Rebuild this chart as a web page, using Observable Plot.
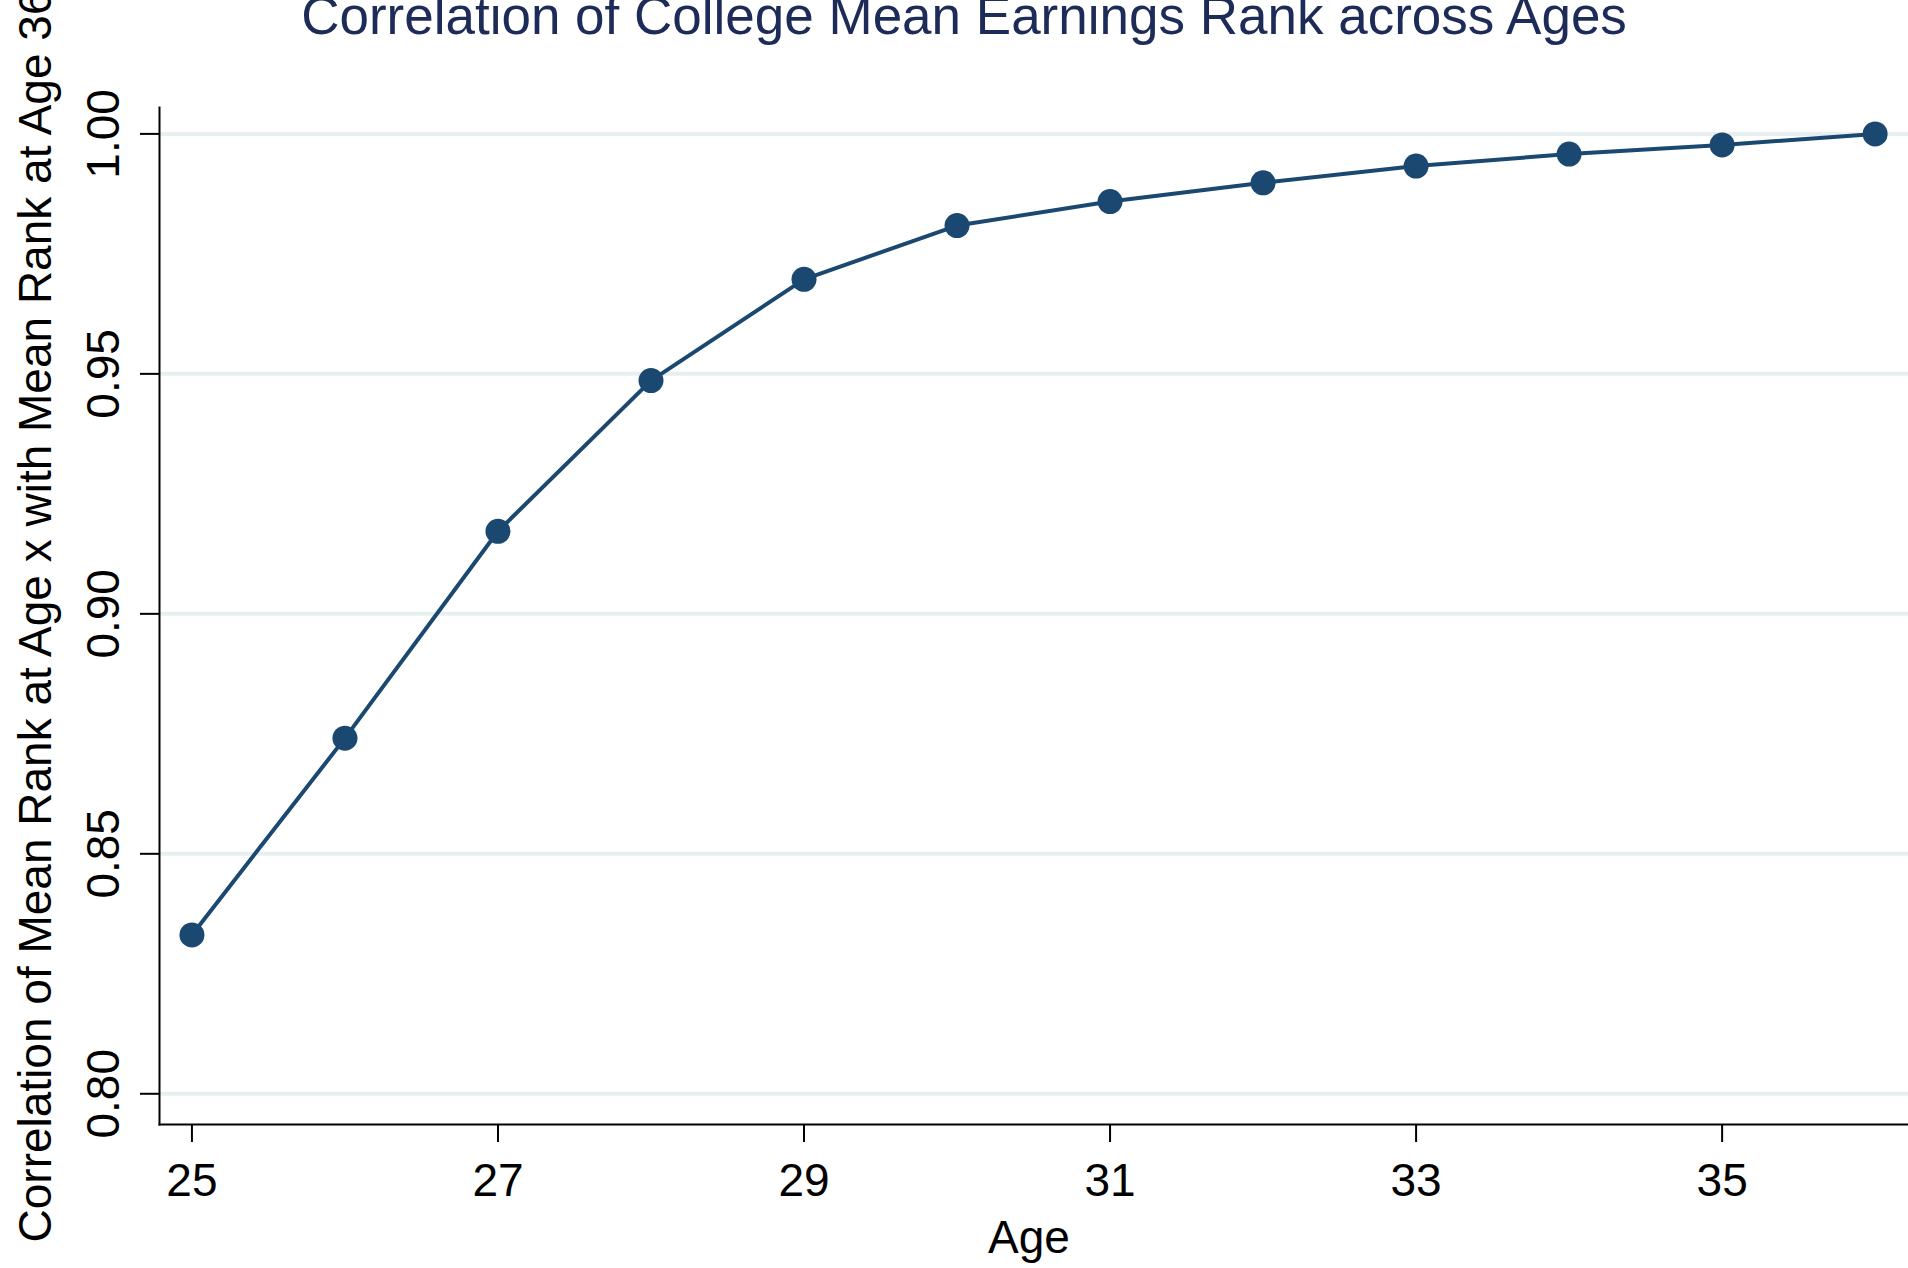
<!DOCTYPE html>
<html>
<head>
<meta charset="utf-8">
<script src="https://cdn.jsdelivr.net/npm/d3@7"></script>
<script src="https://cdn.jsdelivr.net/npm/@observablehq/plot@0.6"></script>
<style>
  html, body { margin: 0; padding: 0; background: #ffffff; }
  #chart svg { display: block; }
</style>
</head>
<body>
<div id="chart"></div>
<script>
const ages = [25, 26, 27, 28, 29, 30, 31, 32, 33, 34, 35, 36];
const correlations = [0.8331, 0.8741, 0.9172, 0.9486, 0.9697, 0.9809, 0.9859, 0.9898, 0.9933, 0.9958, 0.9977, 1.0000];
const xTicks = [25, 27, 29, 31, 33, 35];
const yTicks = [0.80, 0.85, 0.90, 0.95, 1.00];
const titleText = "Correlation of College Mean Earnings Rank across Ages";
const xLabel = "Age";
const yLabel = "Correlation of Mean Rank at Age x with Mean Rank at Age 36";

const data = ages.map((a, i) => ({age: a, corr: correlations[i]}));
const navy = "#1b4870";

const chart = Plot.plot({
  width: 1908,
  height: 1268,
  marginLeft: 159,
  marginRight: 0,
  marginTop: 107,
  marginBottom: 144,
  style: {fontFamily: "Liberation Sans, Arial, Helvetica, sans-serif", fontSize: "46px", background: "#ffffff", color: "#000000", overflow: "visible"},
  x: {domain: [24.788, 36.218]},
  y: {domain: [0.7936, 1.0055]},
  marks: [
    Plot.gridY(yTicks, {stroke: "#e8eff1", strokeWidth: 4, strokeOpacity: 1}),
    Plot.frame({anchor: "left", stroke: "#000", strokeWidth: 2}),
    Plot.frame({anchor: "bottom", stroke: "#000", strokeWidth: 2}),
    Plot.axisX(xTicks, {tickSize: 18, tickPadding: 21, strokeWidth: 2, fontSize: 46, tickFormat: d3.format("d"), label: null}),
    Plot.axisY(yTicks, {tickSize: 19, tickPadding: 22, tickRotate: -90, strokeWidth: 2, fontSize: 46, tickFormat: d3.format(".2f"), label: null}),
    Plot.line(data, {x: "age", y: "corr", stroke: navy, strokeWidth: 4}),
    Plot.dot(data, {x: "age", y: "corr", r: 12.5, fill: navy, stroke: null}),
    Plot.text([xLabel], {frameAnchor: "bottom", dy: 128, dx: -5, lineAnchor: "bottom", fontSize: 46, fill: "#000"}),
    Plot.text([yLabel], {frameAnchor: "left", dx: -109, rotate: -90, textAnchor: "middle", lineAnchor: "bottom", fontSize: 46, fill: "#000"}),
    Plot.text([titleText], {frameAnchor: "top", dy: -74, dx: -70, lineAnchor: "bottom", fontSize: 53, fill: "#1c2b58"})
  ]
});
document.getElementById("chart").appendChild(chart);
</script>
</body>
</html>
